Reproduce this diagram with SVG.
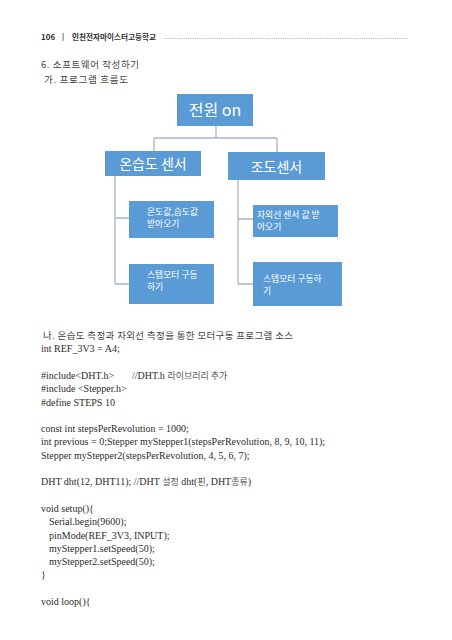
<svg xmlns="http://www.w3.org/2000/svg" width="452" height="640" viewBox="0 0 452 640">
<style>
.bg{fill:#ffffff}
.box{fill:#5B9BD5}
.conn{stroke:#A9B6C6;stroke-width:1.3;fill:none}
.t1{font-family:"Noto Sans CJK KR","Liberation Sans",sans-serif;fill:#ffffff}
.big{font-size:16px}
.mid{font-size:14px}
.small{font-size:8.8px}
.hdr{font-family:"Noto Sans CJK KR","Liberation Sans",sans-serif;fill:#333333;font-weight:bold;font-size:8px}
.head{font-family:"Noto Sans CJK KR","Liberation Serif",serif;fill:#444444;font-size:9.5px}
.code{font-family:"Liberation Serif","Noto Sans CJK KR",serif;fill:#2b2b2b;font-size:10px}
.ko{font-family:"Noto Sans CJK KR",sans-serif;font-size:9px;fill:#555555}
</style>
<rect class="bg" x="0" y="0" width="452" height="640"/>
<g id="header">
<text class="hdr" x="41" y="40" font-weight="normal">106</text>
<rect x="62.5" y="33" width="1.2" height="8" fill="#888"/>
<text class="hdr" x="72" y="40" textLength="84" lengthAdjust="spacingAndGlyphs">인천전자마이스터고등학교</text>
<line x1="164" y1="38.5" x2="408" y2="38.5" stroke="#999" stroke-width="0.8" stroke-dasharray="1 1.2"/>
</g>
<g id="headings">
<text class="head" x="41" y="68" textLength="98">6. 소프트웨어 작성하기</text>
<text class="head" x="44" y="83" textLength="84">가. 프로그램 흐름도</text>
</g>
<g id="connectors">
<path class="conn" d="M216 126 V138 M154 138 H277 M154 138 V151 M277 138 V152"/>
<path class="conn" d="M115 176 V284 M115 218 H129 M115 284 H129"/>
<path class="conn" d="M238 180 V284 M238 219 H253 M238 284 H253"/>
</g>
<g id="n-power">
<rect class="box" x="177" y="94" width="76" height="32"/>
<text class="t1 big" x="215" y="115.5" text-anchor="middle">전원 on</text>
</g>
<g id="n-humid">
<rect class="box" x="105" y="151" width="96" height="25"/>
<text class="t1 mid" x="153" y="169" text-anchor="middle">온습도 센서</text>
</g>
<g id="n-light">
<rect class="box" x="228" y="152" width="97" height="28"/>
<text class="t1 mid" x="276.5" y="171.5" text-anchor="middle">조도센서</text>
</g>
<g id="n-read-th">
<rect class="box" x="129" y="201" width="85" height="37"/>
<text class="t1 small" x="147" y="214.5">온도값,습도값</text>
<text class="t1 small" x="147" y="226.5">받아오기</text>
</g>
<g id="n-motor1">
<rect class="box" x="129" y="264" width="85" height="40"/>
<text class="t1 small" x="147" y="278">스텝모터 구동</text>
<text class="t1 small" x="147" y="290">하기</text>
</g>
<g id="n-read-uv">
<rect class="box" x="253" y="205" width="85" height="32"/>
<text class="t1 small" x="257" y="218">자외선 센서 값 받</text>
<text class="t1 small" x="257" y="230">아오기</text>
</g>
<g id="n-motor2">
<rect class="box" x="253" y="262" width="89" height="44"/>
<text class="t1 small" x="263" y="282">스텝모터 구동하</text>
<text class="t1 small" x="263" y="294">기</text>
</g>
<g id="code">
<text class="head" x="43" y="339" font-size="9.5" textLength="250">나. 온습도 측정과 자외선 측정을 통한 모터구동 프로그램 소스</text>
<text class="code" x="41" y="352.3">int REF_3V3 = A4;</text>
<text class="code" x="41" y="378.9">#include&lt;DHT.h&gt;</text>
<text class="code" x="132" y="378.9">//DHT.h <tspan class="ko">라이브러리 추가</tspan></text>
<text class="code" x="41" y="392.2">#include &lt;Stepper.h&gt;</text>
<text class="code" x="41" y="405.5">#define STEPS 10</text>
<text class="code" x="41" y="432.1">const int stepsPerRevolution = 1000;</text>
<text class="code" x="41" y="445.4">int previous = 0;Stepper myStepper1(stepsPerRevolution, 8, 9, 10, 11);</text>
<text class="code" x="41" y="458.7">Stepper myStepper2(stepsPerRevolution, 4, 5, 6, 7);</text>
<text class="code" x="41" y="485.3">DHT dht(12, DHT11); //DHT <tspan class="ko">설정</tspan> dht(<tspan class="ko">핀</tspan>, DHT<tspan class="ko">종류</tspan>)</text>
<text class="code" x="41" y="511.9">void setup(){</text>
<text class="code" x="49" y="525.2">Serial.begin(9600);</text>
<text class="code" x="49" y="538.5">pinMode(REF_3V3, INPUT);</text>
<text class="code" x="49" y="551.8">myStepper1.setSpeed(50);</text>
<text class="code" x="49" y="565.1">myStepper2.setSpeed(50);</text>
<text class="code" x="41" y="578.4">}</text>
<text class="code" x="41" y="605">void loop(){</text>
</g>
</svg>
